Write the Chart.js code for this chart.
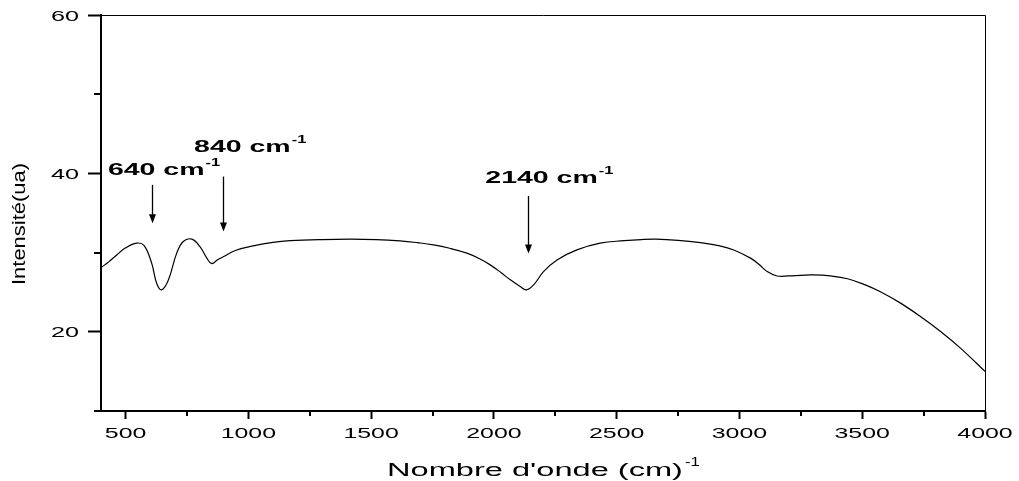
<!DOCTYPE html>
<html>
<head>
<meta charset="utf-8">
<style>
  html, body { margin: 0; padding: 0; background: #fff; }
  canvas { display: block; }
</style>
</head>
<body>
<canvas id="irSpectrum" width="1019" height="481"></canvas>
<script src="https://cdn.jsdelivr.net/npm/chart.js"></script>
<script>
// IR spectrum, wavenumber (cm-1) vs intensity (a.u.)
const wavenumbers = [400, 430, 464, 500, 545, 575, 606, 627, 647, 674, 708, 735,
    770, 803, 831, 851, 875, 900, 950, 1034, 1100, 1170, 1300, 1415,
    1520, 1618, 1690, 1754, 1820, 1890, 1940, 1985, 2030, 2067, 2107, 2132,
    2162, 2202, 2257, 2338, 2433, 2530, 2600, 2660, 2750, 2841, 2920, 2977,
    3045, 3080, 3113, 3153, 3200, 3250, 3300, 3370, 3440, 3510, 3574, 3656,
    3737, 3819, 3900, 4000];
const intensity = [28.1, 28.8, 29.7, 30.6, 31.2, 30.9, 28.7, 26.1, 25.3, 26.5, 29.9, 31.4,
    31.7, 30.75, 29.3, 28.6, 29.1, 29.5, 30.3, 30.95, 31.3, 31.5, 31.65, 31.7,
    31.65, 31.48, 31.25, 30.98, 30.55, 29.93, 29.25, 28.45, 27.45, 26.56, 25.72, 25.3,
    25.93, 27.6, 29.08, 30.35, 31.2, 31.5, 31.65, 31.7, 31.55, 31.25, 30.85, 30.33,
    29.3, 28.5, 27.6, 27.05, 27.05, 27.13, 27.18, 27.05, 26.7, 25.95, 25.05, 23.62,
    21.93, 20.04, 17.94, 15.0];

// axis ticks
const xTicks = [500, 1000, 1500, 2000, 2500, 3000, 3500, 4000];
const xMinorTicks = [750, 1250, 1750, 2250, 2750, 3250, 3750];
const yTicks = [20, 40, 60];
const yMinorTicks = [10, 30, 50];

// band labels: text, arrow wavenumber, arrow start/end intensity, label anchor
const bandLabels = ['640 cm', '840 cm', '2140 cm'];
const bandArrowAt = [606, 896, 2139];
const bandArrowFrom = [38.55, 39.6, 37.15];
const bandArrowTo = [33.7, 32.65, 29.9];
const bandLabelX = [428, 779, 1965];
const bandLabelY = [39.8, 42.75, 38.75];

const FONT = '"Liberation Sans", Arial, sans-serif';

// text drawn with a horizontal stretch, returns the drawn width
function wideText(ctx, text, px, py, font, sx, align) {
    ctx.save();
    ctx.font = font;
    ctx.fillStyle = '#000';
    ctx.textAlign = align || 'left';
    ctx.textBaseline = 'alphabetic';
    ctx.translate(px, py);
    ctx.scale(sx, 1);
    ctx.fillText(text, 0, 0);
    const w = ctx.measureText(text).width * sx;
    ctx.restore();
    return w;
}

const decorations = {
    id: 'decorations',
    afterDraw(chart) {
        const ctx = chart.ctx;
        const area = chart.chartArea;
        const xs = chart.scales.x;
        const ys = chart.scales.y;

        ctx.save();
        ctx.strokeStyle = '#000';

        // thin frame on top and right
        ctx.lineWidth = 1;
        ctx.beginPath();
        ctx.moveTo(area.left, area.top + 0.5);
        ctx.lineTo(area.right + 0.5, area.top + 0.5);
        ctx.lineTo(area.right + 0.5, area.bottom);
        ctx.stroke();

        // minor ticks
        ctx.lineWidth = 2;
        ctx.beginPath();
        xMinorTicks.forEach(v => {
            const px = Math.round(xs.getPixelForValue(v));
            ctx.moveTo(px, area.bottom);
            ctx.lineTo(px, area.bottom + 5);
        });
        yMinorTicks.forEach(v => {
            const py = Math.round(ys.getPixelForValue(v));
            ctx.moveTo(area.left, py);
            ctx.lineTo(area.left - 7, py);
        });
        ctx.stroke();
        ctx.restore();

        // tick labels
        xTicks.forEach(v => {
            wideText(ctx, String(v), xs.getPixelForValue(v), 438, '15px ' + FONT, 1.66, 'center');
        });
        yTicks.forEach(v => {
            wideText(ctx, String(v), 79, ys.getPixelForValue(v) + 5.5, '15px ' + FONT, 1.68, 'right');
        });

        // axis titles
        const tw = wideText(ctx, "Nombre d'onde (cm)", 387, 476, '18px ' + FONT, 1.81);
        wideText(ctx, '-1', 387 + tw + 2, 466, '12px ' + FONT, 1.4);

        ctx.save();
        ctx.translate(25, 224);
        ctx.rotate(-Math.PI / 2);
        wideText(ctx, 'Intensité(ua)', 0, 0, '18px ' + FONT, 1.22, 'center');
        ctx.restore();

        // band annotations with arrows
        bandLabels.forEach((label, i) => {
            const lx = xs.getPixelForValue(bandLabelX[i]);
            const ly = ys.getPixelForValue(bandLabelY[i]);
            const w = wideText(ctx, label, lx, ly, 'bold 16px ' + FONT, 1.78);
            wideText(ctx, '-1', lx + w + 1, ly - 9, 'bold 11px ' + FONT, 1.5);

            const ax = Math.round(xs.getPixelForValue(bandArrowAt[i])) + 0.5;
            const y0 = ys.getPixelForValue(bandArrowFrom[i]);
            const y1 = ys.getPixelForValue(bandArrowTo[i]);
            ctx.save();
            ctx.strokeStyle = '#000';
            ctx.fillStyle = '#000';
            ctx.lineWidth = 1.3;
            ctx.beginPath();
            ctx.moveTo(ax, y0);
            ctx.lineTo(ax, y1 - 7);
            ctx.stroke();
            ctx.beginPath();
            ctx.moveTo(ax, y1);
            ctx.lineTo(ax - 3.5, y1 - 9);
            ctx.lineTo(ax + 3.5, y1 - 9);
            ctx.closePath();
            ctx.fill();
            ctx.restore();
        });
    }
};

const points = wavenumbers.map((w, i) => ({ x: w, y: intensity[i] }));

new Chart(document.getElementById('irSpectrum'), {
    type: 'line',
    data: {
        datasets: [{
            label: 'Intensité',
            data: points,
            borderColor: '#000',
            borderWidth: 1.2,
            pointRadius: 0,
            fill: false,
            tension: 0.4
        }]
    },
    options: {
        responsive: false,
        animation: false,
        devicePixelRatio: 1,
        layout: { padding: { left: 0, top: 15, right: 34, bottom: 0 } },
        plugins: {
            legend: { display: false },
            tooltip: { enabled: false },
            title: { display: false }
        },
        scales: {
            x: {
                type: 'linear',
                min: 400,
                max: 4000,
                afterBuildTicks: scale => { scale.ticks = xTicks.map(v => ({ value: v })); },
                afterFit: scale => { scale.height = 70; },
                ticks: { display: false },
                grid: {
                    drawOnChartArea: false,
                    drawTicks: true,
                    tickLength: 8,
                    tickWidth: 2,
                    tickColor: '#000'
                },
                border: { display: true, color: '#000', width: 2 }
            },
            y: {
                type: 'linear',
                min: 10,
                max: 60,
                afterBuildTicks: scale => { scale.ticks = yTicks.map(v => ({ value: v })); },
                afterFit: scale => { scale.width = 101; },
                ticks: { display: false },
                grid: {
                    drawOnChartArea: false,
                    drawTicks: true,
                    tickLength: 13,
                    tickWidth: 2,
                    tickColor: '#000'
                },
                border: { display: true, color: '#000', width: 2 }
            }
        }
    },
    plugins: [decorations]
});
</script>
</body>
</html>
